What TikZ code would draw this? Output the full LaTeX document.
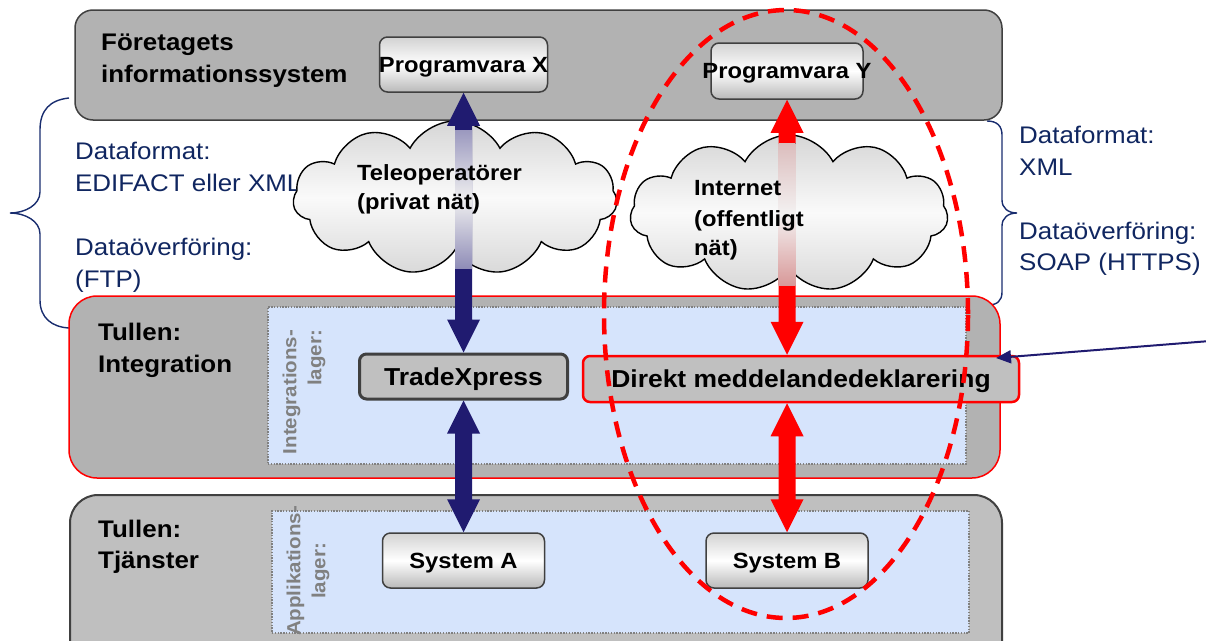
\documentclass[tikz,border=0pt]{standalone}
\usepackage{fontspec}
\setmainfont{Liberation Sans}[FakeStretch=1.08]
\usetikzlibrary{shapes.symbols,calc,arrows.meta}
\definecolor{navy}{RGB}{32,27,112}
\definecolor{txtblue}{RGB}{16,38,96}
\definecolor{bracecol}{RGB}{24,44,110}
\definecolor{layergray}{RGB}{178,178,178}
\definecolor{layergraytwo}{RGB}{191,191,191}
\definecolor{innerblue}{RGB}{214,228,252}
\definecolor{boxgray}{RGB}{192,192,192}
\definecolor{edgegray}{RGB}{64,64,64}
\newcommand{\fs}[2]{\fontsize{#1}{#2}\selectfont}
\newcommand{\vdarrow}[3]{\fill[#1] (#2) -- ++(16.5,33) -- ++(-8,0) -- ($(#3)+(8.5,-33)$) -- ++(8,0) -- (#3) -- ++(-16.5,-33) -- ++(8,0) -- ($(#2)+(-8.5,33)$) -- ++(-8,0) -- cycle;}
\tikzset{
  layer/.style={draw=edgegray, line width=1.5pt, fill=layergray, rounded corners=18pt, inner sep=0pt},
  innerlayer/.style={draw=gray, line width=1.4pt, dash pattern=on 1.4pt off 1.4pt, fill=innerblue, inner sep=0pt},
  gbox/.style={draw=edgegray, line width=1.5pt, rounded corners=8pt, top color=gray!35, bottom color=gray!55, middle color=white, inner sep=0pt, text depth=0pt, font=\bfseries\fs{22}{26}},
  sbox/.style={fill=boxgray, rounded corners=7pt, inner sep=0pt, text depth=0pt, font=\bfseries\fs{24.5}{28}},
  hdr/.style={font=\bfseries\fs{24}{28}, inner sep=0pt, anchor=base west},
  bluetxt/.style={font=\fs{24}{28}, text=txtblue, inner sep=0pt, anchor=base west},
  cloudtxt/.style={font=\bfseries\fs{22}{26}, inner sep=0pt, anchor=base west},
  cloudshape/.style={cloud, cloud puffs=11, cloud puff arc=125, draw=black, line width=1.4pt, top color=gray!32, bottom color=gray!30, middle color=gray!4, inner sep=0pt},
  vlab/.style={rotate=90, font=\bfseries\fs{19}{25}, text=gray, inner sep=0pt},
}
\begin{document}
\begin{tikzpicture}[x=1pt,y=-1pt]
\useasboundingbox (0,0) rectangle (1206,640);
% braces
\draw[bracecol, line width=1.4pt] (69,98) .. controls (50,100) and (40,110) .. (40,130) -- (40,192) .. controls (40,205) and (25,213) .. (10,213) .. controls (25,213) and (40,221) .. (40,234) -- (40,300) .. controls (40,318) and (52,327) .. (69,328);
\draw[bracecol, line width=1.4pt] (987,121) .. controls (997,121) and (1002,126) .. (1002,135) -- (1002,200) .. controls (1002,208) and (1008,213) .. (1017,213) .. controls (1008,213) and (1002,218) .. (1002,226) -- (1002,292) .. controls (1002,301) and (997,305) .. (988,305);
% layers
\node[layer, minimum width=927pt, minimum height=110pt] (fis) at (538.5,65) {};
\node[layer, draw=red, rounded corners=28pt, minimum width=931pt, minimum height=182pt] (integ) at (534.5,387) {};
\node[innerlayer, minimum width=698pt, minimum height=157pt] (integin) at (617,385.5) {};
\node[layer, fill=layergraytwo, line width=2pt, rounded corners=28pt, minimum width=932pt, minimum height=185pt] (tj) at (536,587.5) {};
\node[innerlayer, minimum width=697pt, minimum height=122pt] (tjin) at (620.5,572) {};
% layer titles
\node[hdr] (h1) at (101,50) {Företagets};
\node[hdr] (h2) at (101,82) {informationssystem};
\node[hdr] (ti1) at (98,340) {Tullen:};
\node[hdr] (ti2) at (98,372) {Integration};
\node[hdr] (tt1) at (98,537) {Tullen:};
\node[hdr] (tt2) at (98,568) {Tjänster};
% vertical labels
\node[vlab, align=right] (vl1) at (304,392) {Integrations-\\lager:};
\node[vlab, align=center] (vl2) at (308,571) {Applikations-\\lager:};
% side texts
\node[bluetxt] (lb1) at (75,159) {Dataformat:};
\node[bluetxt] (lb2) at (75,191) {EDIFACT eller XML};
\node[bluetxt] (lb3) at (75,255) {Dataöverföring:};
\node[bluetxt] (lb4) at (75,287) {(FTP)};
\node[bluetxt] (rb1) at (1019,143) {Dataformat:};
\node[bluetxt] (rb2) at (1019,175) {XML};
\node[bluetxt] (rb3) at (1019,239) {Dataöverföring:};
\node[bluetxt] (rb4) at (1019,270) {SOAP (HTTPS)};
% software boxes
\node[gbox, minimum width=168pt, minimum height=55pt] (px) at (463.5,64.5) {\makebox[0pt]{Programvara X}};
\node[gbox, minimum width=152pt, minimum height=56pt] (py) at (787,71) {\makebox[0pt]{Programvara Y}};
\node[sbox, draw=edgegray, line width=3pt, minimum width=208pt, minimum height=45pt] (tx) at (463.5,376.5) {\makebox[0pt]{TradeXpress}};
\node[sbox, draw=red, line width=2.5pt, minimum width=436pt, minimum height=46pt] (dm) at (801,379) {\makebox[0pt]{Direkt meddelandedeklarering}};
\node[gbox, minimum width=162pt, minimum height=55pt] (sa) at (463.5,560.5) {\makebox[0pt]{System A}};
\node[gbox, minimum width=162pt, minimum height=55pt] (sb) at (787,560.5) {\makebox[0pt]{System B}};
% clouds
\node[cloudshape, minimum width=324pt, minimum height=154pt, aspect=2.1] (c1) at (455,198) {};
\node[cloudshape, minimum width=318pt, minimum height=157pt, aspect=2.02] (c2) at (789,213.5) {};
% arrows
\vdarrow{navy}{px.south}{tx.north}
\fill[top color=navy!45, bottom color=navy!50, middle color=navy!6!gray!12] (455,130) rectangle (472,268);
\vdarrow{navy}{tx.south}{sa.north}
\coordinate (dmtop) at (py.south |- dm.north);
\vdarrow{red}{py.south}{dmtop}
\fill[top color=red!30!gray!40, bottom color=red!45!gray!55, middle color=red!8!gray!10] (778.5,143) rectangle (795.5,285);
\coordinate (dmbot) at (sb.north |- dm.south);
\vdarrow{red}{dmbot}{sb.north}
% cloud texts
\node[cloudtxt] (ct1) at (357,180) {Teleoperatörer};
\node[cloudtxt] (ct2) at (357,209) {(privat nät)};
\node[cloudtxt] (ci1) at (694,195) {Internet};
\node[cloudtxt] (ci2) at (694,226) {(offentligt};
\node[cloudtxt] (ci3) at (694,255) {nät)};
% dashed ellipse
\draw[red, line width=4.5pt, dash pattern=on 16pt off 10pt] (786,314) ellipse [x radius=182pt, y radius=304pt];
% pointer
\coordinate (ptrS) at (1210,341);
\coordinate (ptrT) at (996,358);
\draw[navy, line width=2pt, -{Triangle[length=15pt,width=13pt]}] (ptrS) -- (ptrT);
\end{tikzpicture}
\end{document}
